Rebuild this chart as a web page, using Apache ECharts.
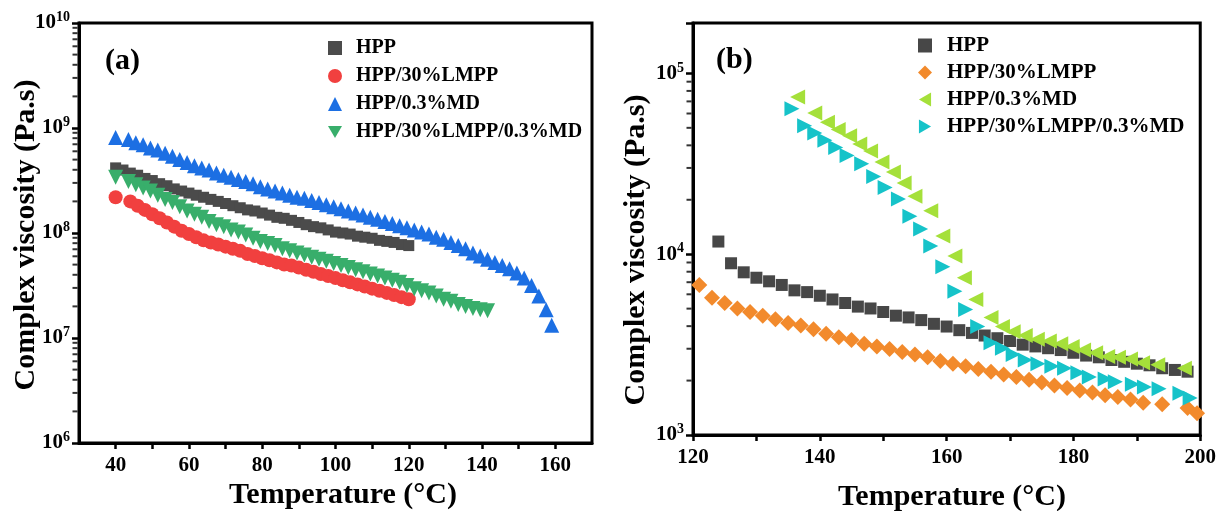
<!DOCTYPE html>
<html><head><meta charset="utf-8">
<script src="https://cdn.jsdelivr.net/npm/echarts@6/dist/echarts.min.js"></script>
<style>html,body{margin:0;padding:0;background:#fff}#c{width:1219px;height:511px}</style>
</head><body><div id="c"></div>
<script>
// ---------- Panel (a) data ----------
const aHppT = [40,42,44,46,48,50,52,54,56,58,60,62,64,66,68,70,72,74,76,78,80,82,84,86,88,90,92,94,96,98,100,102,104,106,108,110,112,114,116,118,120];
const aHppV = [4.17e8,3.98e8,3.72e8,3.55e8,3.31e8,3.16e8,2.95e8,2.82e8,2.63e8,2.51e8,2.40e8,2.29e8,2.19e8,2.09e8,2.00e8,1.91e8,1.82e8,1.74e8,1.66e8,1.62e8,1.55e8,1.48e8,1.41e8,1.38e8,1.32e8,1.26e8,1.20e8,1.15e8,1.12e8,1.07e8,1.02e8,1.00e8,9.77e7,9.33e7,9.12e7,8.91e7,8.51e7,8.32e7,8.13e7,7.76e7,7.59e7];

const aLmppT = [40,44,46,48,50,52,54,56,58,60,62,64,66,68,70,72,74,76,78,80,82,84,86,88,90,92,94,96,98,100,102,104,106,108,110,112,114,116,118,120];
const aLmppV = [2.19e8,2.00e8,1.82e8,1.66e8,1.51e8,1.38e8,1.26e8,1.15e8,1.05e8,9.77e7,9.12e7,8.51e7,8.13e7,7.76e7,7.41e7,7.08e7,6.76e7,6.31e7,6.03e7,5.75e7,5.50e7,5.25e7,5.01e7,4.90e7,4.68e7,4.47e7,4.27e7,4.07e7,3.89e7,3.72e7,3.55e7,3.39e7,3.24e7,3.09e7,2.95e7,2.82e7,2.69e7,2.57e7,2.45e7,2.34e7];

const aMdT = [40,43.5,45.5,47.5,49.5,51.5,53.5,55.5,57.5,59.5,61.5,63.5,65.5,67.5,69.5,71.5,73.5,75.5,77.5,79.5,81.5,83.5,85.5,87.5,89.5,91.5,93.5,95.5,97.5,99.5,101.5,103.5,105.5,107.5,109.5,111.5,113.5,115.5,117.5,119.5,121.5,123.5,125.5,127.5,129.5,131.5,133.5,135.5,137.5,139.5,141.5,143.5,145.5,147.5,149.5,151.5,153.5,155.5,157.5,159];
const aMdV = [8.13e8,7.76e8,7.24e8,6.92e8,6.46e8,6.17e8,5.75e8,5.37e8,5.01e8,4.68e8,4.37e8,4.17e8,3.98e8,3.72e8,3.55e8,3.39e8,3.24e8,3.09e8,2.95e8,2.75e8,2.63e8,2.51e8,2.40e8,2.29e8,2.19e8,2.14e8,2.04e8,1.95e8,1.86e8,1.78e8,1.70e8,1.62e8,1.55e8,1.48e8,1.41e8,1.35e8,1.29e8,1.23e8,1.17e8,1.12e8,1.07e8,1.02e8,9.77e7,9.12e7,8.71e7,8.13e7,7.59e7,7.08e7,6.46e7,6.03e7,5.62e7,5.25e7,4.90e7,4.57e7,4.17e7,3.72e7,3.16e7,2.51e7,1.86e7,1.32e7];

const aMixT = [40,43.5,45.5,47.5,49.5,51.5,53.5,55.5,57.5,59.5,61.5,63.5,65.5,67.5,69.5,71.5,73.5,75.5,77.5,79.5,81.5,83.5,85.5,87.5,89.5,91.5,93.5,95.5,97.5,99.5,101.5,103.5,105.5,107.5,109.5,111.5,113.5,115.5,117.5,119.5,121.5,123.5,125.5,127.5,129.5,131.5,133.5,135.5,137.5,139.5,141.5];
const aMixV = [3.39e8,3.09e8,2.88e8,2.69e8,2.51e8,2.29e8,2.09e8,1.95e8,1.78e8,1.62e8,1.51e8,1.41e8,1.29e8,1.20e8,1.15e8,1.07e8,1.02e8,9.55e7,8.91e7,8.32e7,7.94e7,7.59e7,7.08e7,6.76e7,6.46e7,6.17e7,5.89e7,5.62e7,5.37e7,5.13e7,4.90e7,4.68e7,4.47e7,4.27e7,4.07e7,3.89e7,3.72e7,3.55e7,3.39e7,3.16e7,2.95e7,2.82e7,2.69e7,2.51e7,2.34e7,2.24e7,2.09e7,2.00e7,1.91e7,1.86e7,1.82e7];

// ---------- Panel (b) data ----------
const bHppT = [124,126,128,130,132,134,136,138,140,142,144,146,148,150,152,154,156,158,160,162,164,166,168,170,172,174,176,178,180,182,184,186,188,190,192,194,196,198];
const bHppV = [11750,8910,7940,7410,7080,6760,6310,6170,5890,5620,5370,5130,5010,4790,4570,4470,4320,4120,3980,3800,3670,3550,3430,3310,3160,3090,3020,2950,2850,2750,2690,2600,2540,2480,2430,2340,2290,2240];

const bLmppT = [121,123,125,127,129,131,133,135,137,139,141,143,145,147,149,151,153,155,157,159,161,163,165,167,169,171,173,175,177,179,181,183,185,187,189,191,194,198,199.5];
const bLmppV = [6760,5750,5370,5010,4790,4570,4370,4170,4030,3850,3630,3470,3350,3200,3090,2990,2880,2790,2690,2570,2480,2400,2320,2240,2160,2090,2020,1950,1880,1820,1760,1720,1660,1620,1570,1510,1480,1410,1320];

const bMdT = [136.5,139.2,141.2,142.9,144.7,146.3,148,149.8,151.6,153.3,155,157.5,159.4,161.3,162.8,164.6,167,168.8,170.5,172.4,174.3,176.2,178,179.8,181.6,183.5,185.4,187.1,189,190.9,193.3,197.5];
const bMdV = [74100,60300,53700,49000,45200,40700,37200,32400,28500,24800,20900,17400,12600,9770,7410,5620,4470,3980,3720,3550,3390,3310,3200,3090,2950,2850,2720,2690,2630,2510,2450,2340];

const bMixT = [135.6,137.6,139.2,140.8,142.5,144.3,146.6,148.5,150.3,152.4,154.2,155.9,157.5,159.4,161.3,163,164.9,167,168.8,170.5,172.4,174.4,176.6,178.6,180.7,182.5,185,186.6,189.3,191.2,193.5,196.8,198.4];
const bMixV = [63800,51300,46800,42700,38900,35100,31600,26900,23400,20200,16200,13800,11100,8510,6240,4950,3980,3240,3020,2790,2600,2480,2400,2340,2210,2090,2040,1970,1910,1840,1800,1700,1600];

// ---------- Tick labels ----------
const aXLabels = [40,60,80,100,120,140,160];
const aXTicks = [40,50,60,70,80,90,100,110,120,130,140,150,160];
const bXLabels = [120,140,160,180,200];
const bXTicks = [120,130,140,150,160,170,180,190,200];
const legendNames = ['HPP','HPP/30%LMPP','HPP/0.3%MD','HPP/30%LMPP/0.3%MD'];

function minorLog(lo, hi, cap){ const out=[]; for(let d=lo; d<hi; d*=10){ for(let k=2;k<=9;k++){ if(k*d<cap) out.push(k*d); } } return out; }

const FF = 'Liberation Serif';
function pairs(T,V){ return T.map((t,i)=>[t,V[i]]); }
function sc(name,T,V,sym,size,color,rot,xi,yi){
  return {type:'scatter',name:name,xAxisIndex:xi,yAxisIndex:yi,data:pairs(T,V),symbol:sym,symbolSize:size,symbolRotate:rot||0,
    itemStyle:{color:color,opacity:1},emphasis:{disabled:true},z:2};
}
// minor log ticks drawn as tiny marks on the y axis line
function minorTicks(xi,yi,x0,vals){
  return {type:'scatter',name:'_minor'+yi,xAxisIndex:xi,yAxisIndex:yi,data:vals.map(v=>[x0,v]),symbol:'rect',symbolSize:[5,2],
    symbolOffset:[-4,0],itemStyle:{color:'#000'},clip:false,silent:true,emphasis:{disabled:true},z:5};
}
const supRich = {
  b:{fontFamily:FF,fontWeight:'bold',fontSize:21,color:'#000'},
  s:{fontFamily:FF,fontWeight:'bold',fontSize:14,color:'#000',padding:[0,0,11,0]}
};
function yFmt(v){ const l=Math.log10(v), e=Math.round(l); if(Math.abs(l-e)>1e-6) return ''; return '{b|10}{s|'+e+'}'; }
const axisLine = {show:true,onZero:false,lineStyle:{color:'#000',width:3}};
const xLabel = (vals)=>({customValues:vals,fontFamily:FF,fontWeight:'bold',fontSize:21,color:'#000',margin:12});

function xAxis(gi,min,max,labels,ticks){
  return {type:'value',gridIndex:gi,min:min,max:max,axisLine:axisLine,splitLine:{show:false},
    axisTick:{show:true,customValues:ticks,length:6,inside:false,lineStyle:{color:'#000',width:2.5}},
    axisLabel:xLabel(labels)};
}
function yMain(gi,min,max){
  return {type:'log',logBase:10,gridIndex:gi,min:min,max:max,position:'left',axisLine:axisLine,splitLine:{show:false},
    axisTick:{show:true,length:7,inside:false,lineStyle:{color:'#000',width:2.5}},
    axisLabel:{formatter:yFmt,rich:supRich,margin:9}};
}
const legendText = (fs)=>({fontFamily:FF,fontWeight:'bold',fontSize:fs,color:'#000'});
const ICON_DOWN = 'path://M0,0L2,0L1,1.732Z';
const ICON_LEFT = 'path://M1.732,0L1.732,2L0,1Z';
const ICON_RIGHT = 'path://M0,0L0,2L1.732,1Z';

const option = {
  animation:false,
  backgroundColor:'#fff',
  grid:[
    {left:79,top:23,width:513,height:420,show:true,borderColor:'#000',borderWidth:3,backgroundColor:'transparent'},
    {left:693,top:23,width:508,height:412,show:true,borderColor:'#000',borderWidth:3,backgroundColor:'transparent'}
  ],
  xAxis:[ xAxis(0,30,170,aXLabels,aXTicks), xAxis(1,120,200,bXLabels,bXTicks) ],
  yAxis:[ yMain(0,1e6,1e10), yMain(1,1e3,1.9e5) ],
  legend:[
    {left:323,top:33,orient:'vertical',itemWidth:14,itemHeight:14,itemGap:8,selectedMode:false,
     data:[{name:'HPP'},{name:'HPP/30%LMPP'},{name:'HPP/0.3%MD'},{name:'HPP/30%LMPP/0.3%MD',icon:ICON_DOWN}],
     textStyle:Object.assign({padding:[0,0,0,9]},legendText(20))},
    {left:913,top:30,orient:'vertical',itemWidth:14,itemHeight:14,itemGap:6,selectedMode:false,
     data:[{name:'b:HPP'},{name:'b:HPP/30%LMPP'},{name:'b:HPP/0.3%MD',icon:ICON_LEFT},{name:'b:HPP/30%LMPP/0.3%MD',icon:ICON_RIGHT}],
     formatter:n=>n.slice(2),textStyle:Object.assign({padding:[0,0,0,10]},legendText(21))}
  ],
  graphic:[
    {type:'text',left:105,top:46,style:{text:'(a)',font:'bold 30px "Liberation Serif"',fill:'#000'}},
    {type:'text',left:716,top:45,style:{text:'(b)',font:'bold 30px "Liberation Serif"',fill:'#000'}},
    {type:'text',x:343,y:495,style:{text:'Temperature (°C)',font:'bold 30px "Liberation Serif"',fill:'#000',align:'center',verticalAlign:'middle'}},
    {type:'text',x:952,y:497,style:{text:'Temperature (°C)',font:'bold 30px "Liberation Serif"',fill:'#000',align:'center',verticalAlign:'middle'}},
    {type:'text',x:26,y:235,rotation:Math.PI/2,style:{text:'Complex viscosity (Pa.s)',font:'bold 30px "Liberation Serif"',fill:'#000',align:'center',verticalAlign:'middle'}},
    {type:'text',x:636,y:250,rotation:Math.PI/2,style:{text:'Complex viscosity (Pa.s)',font:'bold 30px "Liberation Serif"',fill:'#000',align:'center',verticalAlign:'middle'}}
  ],
  series:[
    sc('HPP',aHppT,aHppV,'rect',11,'#4b4b4b',0,0,0),
    sc('HPP/30%LMPP',aLmppT,aLmppV,'circle',14,'#f1403f',0,0,0),
    sc('HPP/0.3%MD',aMdT,aMdV,'triangle',15,'#1c6fe3',0,0,0),
    sc('HPP/30%LMPP/0.3%MD',aMixT,aMixV,'triangle',15,'#38ae6b',180,0,0),
    sc('b:HPP',bHppT,bHppV,'rect',12,'#474747',0,1,1),
    sc('b:HPP/30%LMPP',bLmppT,bLmppV,'diamond',16,'#f28a2c',0,1,1),
    sc('b:HPP/0.3%MD',bMdT,bMdV,'triangle',15,'#a5e03a',90,1,1),
    sc('b:HPP/30%LMPP/0.3%MD',bMixT,bMixV,'triangle',15,'#16c3c9',-90,1,1),
    minorTicks(0,0,30,minorLog(1e6,1e10,1e10)),
    minorTicks(1,1,120,minorLog(1e3,1e5,1.9e5).concat([2e5]).filter(v=>v<1.9e5))
  ]
};
const chart = echarts.init(document.getElementById('c'),null,{renderer:'canvas'});
chart.setOption(option);
</script>
</body></html>
